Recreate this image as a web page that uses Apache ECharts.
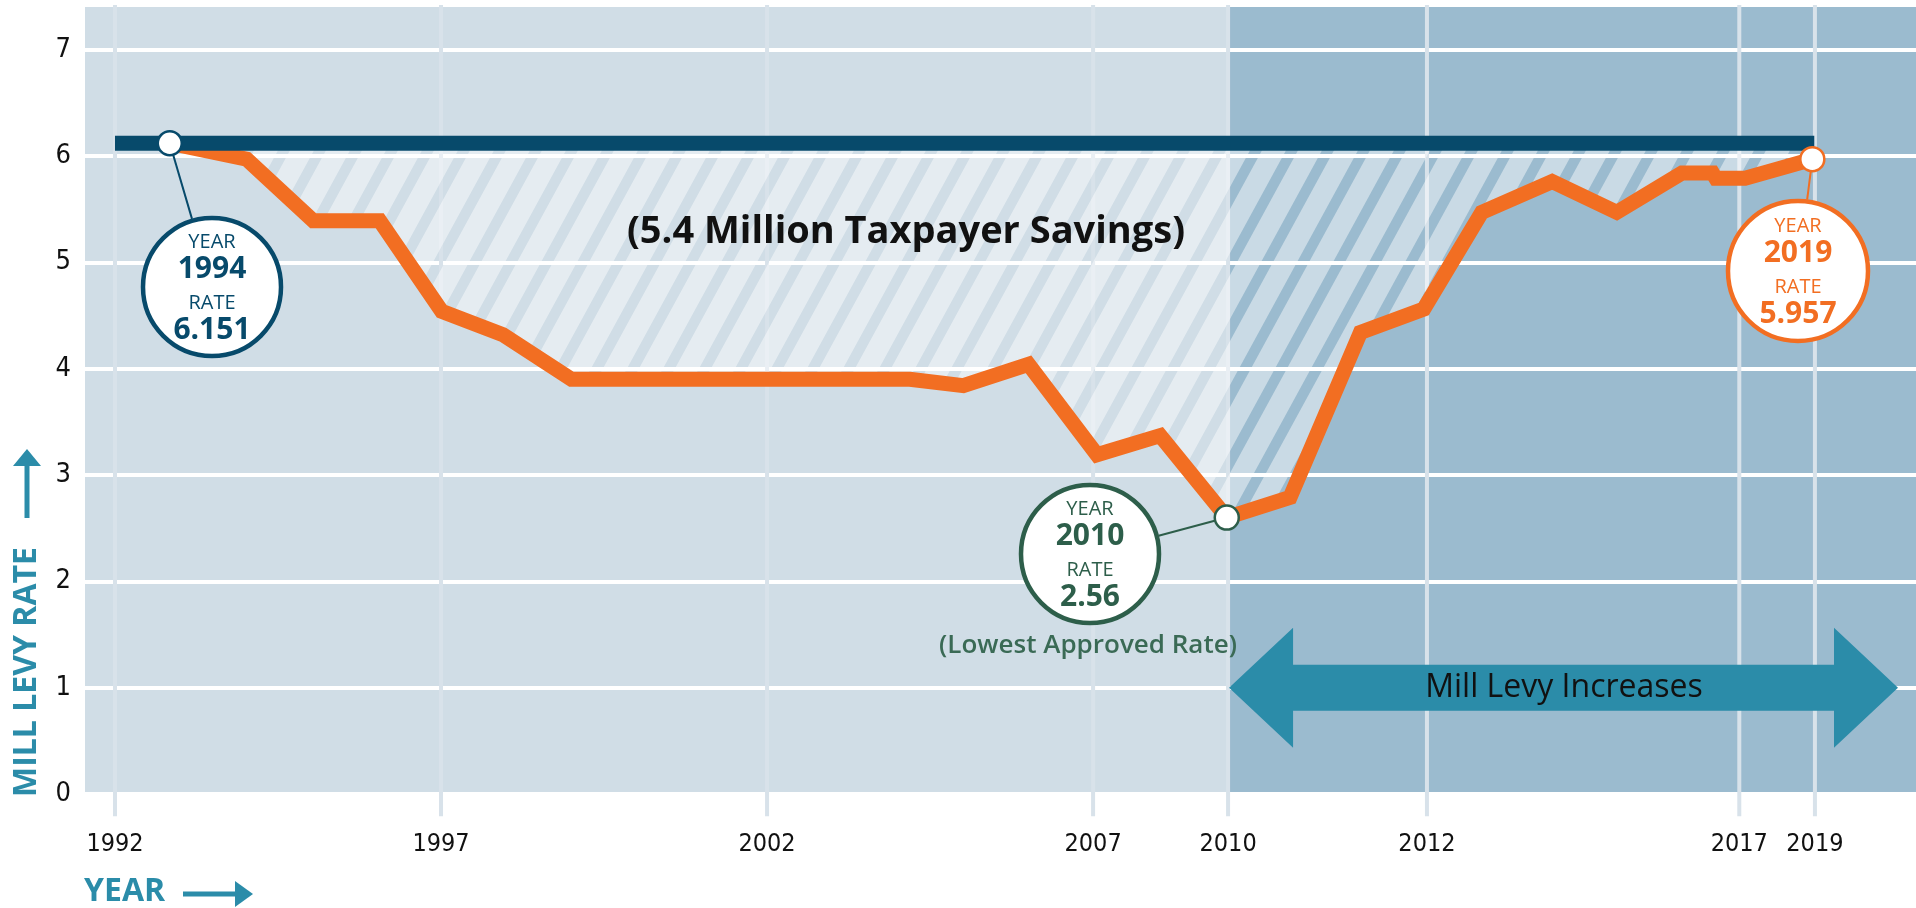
<!DOCTYPE html>
<html>
<head>
<meta charset="utf-8">
<script src="https://cdn.jsdelivr.net/npm/echarts@6/dist/echarts.min.js"></script>
<style>
html,body{margin:0;padding:0;background:#fff;}
#chart{width:1916px;height:908px;}
</style>
</head>
<body>
<div id="chart"></div>
<script>
// ---- data ----
const tickLabels = ['1992','1997','2002','2007','2010','2012','2017','2019'];
const tickPos    = [0, 5, 10, 15, 17.07, 20.12, 24.91, 26.07];
const yTicks     = [0, 1, 2, 3, 4, 5, 6, 7];

const rateX = [0.84, 2.02, 3.04, 4.06, 5.01, 5.95, 7.0, 12.19, 13.01, 14.01, 15.06, 16.03, 17.05, 18.02, 19.1, 20.07, 20.96, 22.04, 23.03, 24.03, 24.5, 24.55, 25.0, 26.03];
const rateY = [6.12, 5.97, 5.39, 5.39, 4.54, 4.32, 3.90, 3.90, 3.84, 4.04, 3.19, 3.37, 2.60, 2.79, 4.34, 4.56, 5.47, 5.76, 5.47, 5.84, 5.84, 5.79, 5.79, 5.97];

const baseX = [0, 26.06];
const baseY = [6.12, 6.12];

const calloutX = [0.84, 17.05, 26.03];
const calloutY = [6.12, 2.60, 5.97];
const calloutYear = ['1994', '2010', '2019'];
const calloutRate = ['6.151', '2.56', '5.957'];

const increaseStart = 17.07;
const xMin = -0.46, xMax = 27.62, yMax = 7.42;

// ---- styles ----
const C_LEFT = '#d0dde6', C_RIGHT = '#9bbbcf', C_VGRID = '#d8e2ea';
const C_ORANGE = '#f26e22', C_NAVY = '#074a6b', C_GREEN = '#2d5e4a', C_TEAL = '#2b8ca9';
const calloutColor = [C_NAVY, C_GREEN, C_ORANGE];
const fontCond = "'DejaVu Sans Condensed','DejaVu Sans',sans-serif";
const fontMain = "'Open Sans','Noto Sans',sans-serif";

function makeHatch() {
  const W = 36, H = 66, sw = 12;
  const c = document.createElement('canvas');
  c.width = W; c.height = H;
  const ctx = c.getContext('2d');
  ctx.fillStyle = 'rgba(255,255,255,0.46)';
  ctx.fillRect(0, 0, W, H);
  ctx.globalCompositeOperation = 'destination-out';
  ctx.fillStyle = '#000';
  for (const x0 of [-W, 0, W]) {
    ctx.beginPath();
    ctx.moveTo(x0, H); ctx.lineTo(x0 + sw, H);
    ctx.lineTo(x0 + sw + W, 0); ctx.lineTo(x0 + W, 0);
    ctx.closePath(); ctx.fill();
  }
  return c;
}
const hatch = makeHatch();

const chart = echarts.init(document.getElementById('chart'), null, {renderer: 'canvas'});

const condLabel = {fontStyle: 'normal', fontWeight: 'condensed', color: '#111', fontFamily: fontCond};

const option = {
  animation: false,
  backgroundColor: '#fff',
  grid: {left: 85, right: 0, top: 5, bottom: 114, containLabel: false},
  xAxis: {
    type: 'value', min: xMin, max: xMax, z: 2,
    axisLine: {show: false}, axisTick: {show: false}, splitLine: {show: false},
    axisLabel: Object.assign({
      customValues: tickPos,
      formatter: function (v) { const i = tickPos.indexOf(v); return i >= 0 ? tickLabels[i] : ''; },
      margin: 38, fontSize: 25
    }, condLabel)
  },
  yAxis: {
    type: 'value', min: 0, max: yMax, interval: 1, z: 2,
    axisLine: {show: false}, axisTick: {show: false},
    splitLine: {show: true, lineStyle: {color: '#ffffff', width: 4}},
    axisLabel: Object.assign({
      showMaxLabel: false, margin: 14, fontSize: 27,
      formatter: function (v) { return yTicks.indexOf(v) >= 0 ? String(v) : ''; }
    }, condLabel)
  },
  series: [
    {
      type: 'custom', z: 1, silent: true,
      data: [[xMin, increaseStart], [increaseStart, xMax]],
      renderItem: function (params, api) {
        const p1 = api.coord([api.value(0), yMax]);
        const p2 = api.coord([api.value(1), 0]);
        return {type: 'rect', shape: {x: p1[0], y: p1[1], width: p2[0] - p1[0], height: p2[1] - p1[1]},
                style: {fill: params.dataIndex === 0 ? C_LEFT : C_RIGHT}};
      }
    },
    {
      type: 'custom', z: 3, silent: true, clip: false,
      data: tickPos.map(v => [v, 0]),
      renderItem: function (params, api) {
        const p1 = api.coord([api.value(0), yMax]);
        const p2 = api.coord([api.value(0), -0.21]);
        return {type: 'line', shape: {x1: p1[0], y1: p1[1], x2: p2[0], y2: p2[1]},
                style: {stroke: C_VGRID, lineWidth: 4}};
      }
    },
    {
      type: 'custom', z: 4, silent: true,
      data: [[0, 0]],
      renderItem: function (params, api) {
        const pts = rateX.map((x, i) => api.coord([x, rateY[i]]));
        pts.push(api.coord([rateX[rateX.length - 1], baseY[0]]));
        pts.push(api.coord([rateX[0], baseY[0]]));
        return {type: 'polygon', shape: {points: pts},
                style: {fill: {image: hatch, repeat: 'repeat'}}};
      }
    },
    {
      type: 'line', z: 5, symbol: 'none', silent: true,
      data: rateX.map((x, i) => [x, rateY[i]]),
      lineStyle: {color: C_ORANGE, width: 15, join: 'miter', cap: 'butt'}
    },
    {
      type: 'line', z: 6, symbol: 'none', silent: true,
      data: baseX.map((x, i) => [x, baseY[i]]),
      lineStyle: {color: C_NAVY, width: 15, cap: 'butt'}
    },
    {
      type: 'scatter', z: 8, symbol: 'circle', symbolSize: 24, silent: true,
      data: calloutX.map((x, i) => ({value: [x, calloutY[i]],
        itemStyle: {color: '#ffffff', opacity: 1, borderColor: calloutColor[i], borderWidth: 2.5}}))
    }
  ]
};
chart.setOption(option);

// ---- annotations ----
const circ = [
  {cx: 212, cy: 287, r: 71},
  {cx: 1090, cy: 554, r: 71},
  {cx: 1798, cy: 271, r: 72}
];
const g = [];
circ.forEach((c, i) => {
  const m = chart.convertToPixel({gridIndex: 0}, [calloutX[i], calloutY[i]]);
  const col = calloutColor[i];
  const dx = m[0] - c.cx, dy = m[1] - c.cy, d = Math.sqrt(dx * dx + dy * dy);
  const ex = c.cx + dx / d * c.r, ey = c.cy + dy / d * c.r;
  g.push({type: 'line', z: 7, silent: true, shape: {x1: m[0], y1: m[1], x2: ex, y2: ey},
          style: {stroke: col, lineWidth: 2}});
  g.push({type: 'circle', z: 9, silent: true, shape: {cx: c.cx, cy: c.cy, r: c.r - 2},
          style: {fill: '#fff', stroke: col, lineWidth: 4.5}});
  const lines = [
    {t: 'YEAR', dy: -45, s: 20, w: 'normal'},
    {t: calloutYear[i], dy: -18, s: 30, w: 'bold'},
    {t: 'RATE', dy: 16, s: 20, w: 'normal'},
    {t: calloutRate[i], dy: 43, s: 30, w: 'bold'}
  ];
  lines.forEach(l => g.push({type: 'text', z: 10, silent: true,
    style: {text: l.t, x: c.cx, y: c.cy + l.dy, align: 'center', verticalAlign: 'middle',
            fontSize: l.s, fontWeight: l.w, fontFamily: fontMain, fill: col}}));
});

g.push({type: 'text', z: 10, silent: true,
  style: {text: '(Lowest Approved Rate)', x: 1088, y: 646, align: 'center', verticalAlign: 'middle',
          fontSize: 26, fontWeight: 600, fontFamily: fontMain, fill: '#3a6a55'}});

g.push({type: 'text', z: 10, silent: true,
  style: {text: '(5.4 Million Taxpayer Savings)', x: 906, y: 232, align: 'center', verticalAlign: 'middle',
          fontSize: 38, fontWeight: 'bold', fontFamily: fontMain, fill: '#111'}});

// double arrow "Mill Levy Increases"
const aL = chart.convertToPixel({gridIndex: 0}, [increaseStart, 1]);
const ay = aL[1], ax0 = aL[0] + 1, ax1 = 1898;
const hw = 64, hh = 60, sh = 23;
g.push({type: 'polygon', z: 9, silent: true,
  shape: {points: [[ax0, ay], [ax0 + hw, ay - hh], [ax0 + hw, ay - sh], [ax1 - hw, ay - sh], [ax1 - hw, ay - hh],
                   [ax1, ay], [ax1 - hw, ay + hh], [ax1 - hw, ay + sh], [ax0 + hw, ay + sh], [ax0 + hw, ay + hh]]},
  style: {fill: C_TEAL}});
g.push({type: 'text', z: 10, silent: true,
  style: {text: 'Mill Levy Increases', x: 1564, y: ay, align: 'center', verticalAlign: 'middle',
          fontSize: 32, fontWeight: 'normal', fontFamily: fontMain, fill: '#111'}});

// axis titles
g.push({type: 'text', z: 10, silent: true, x: 27, y: 672, rotation: Math.PI / 2,
  style: {text: 'MILL LEVY RATE', x: 0, y: 0, align: 'center', verticalAlign: 'middle',
          fontSize: 32, fontWeight: 'bold', fontFamily: fontMain, fill: C_TEAL}});
g.push({type: 'line', z: 10, silent: true, shape: {x1: 27, y1: 518, x2: 27, y2: 462}, style: {stroke: C_TEAL, lineWidth: 5}});
g.push({type: 'polygon', z: 10, silent: true, shape: {points: [[27, 449], [41, 466], [13, 466]]}, style: {fill: C_TEAL}});

g.push({type: 'text', z: 10, silent: true,
  style: {text: 'YEAR', x: 84, y: 892, align: 'left', verticalAlign: 'middle',
          fontSize: 32, fontWeight: 'bold', fontFamily: fontMain, fill: C_TEAL}});
g.push({type: 'line', z: 10, silent: true, shape: {x1: 183, y1: 894, x2: 238, y2: 894}, style: {stroke: C_TEAL, lineWidth: 5}});
g.push({type: 'polygon', z: 10, silent: true, shape: {points: [[253, 894], [235, 881], [235, 907]]}, style: {fill: C_TEAL}});

chart.setOption({graphic: {elements: g}});
</script>
</body>
</html>
